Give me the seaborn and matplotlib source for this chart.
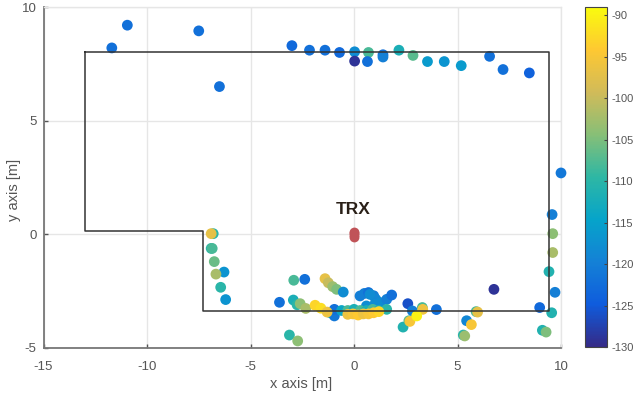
import matplotlib
matplotlib.use('Agg')
import matplotlib.pyplot as plt
import matplotlib.cm as cm
from matplotlib.colors import LinearSegmentedColormap, Normalize
import pandas as pd
import seaborn as sns

# measured reflections: position [m] and received power [dBm], drawn in this order
x_pos = [-11.7, -10.95, -7.5, -6.5,
         -3.0, -2.15, -1.4, -0.7, 0.03, 0.03, 0.7, 0.65, 1.4, 1.4, 2.17, 2.85, 3.55, 4.36, 5.18, 6.55, 7.2, 8.47,
         10.0, 9.57, 9.6, 9.6, 9.42, 9.71, 8.97, 9.55, 9.1, 9.28,
         6.76, 5.9, 5.97, 5.44, 5.67, 5.28, 5.35,
         3.98, 2.6, 2.82, 3.3, 3.32, 2.37, 2.65, 2.7, 3.03,
         -6.8, -6.9, -6.9, -6.85, -6.75, -6.28, -6.67, -6.44, -6.2,
         -2.38, -2.91, -3.6, -2.93, -2.75, -2.6, -2.33, -3.12, -2.72,
         -1.4, -1.24, -1.03, -0.84, -0.52,
         0.29, 0.5, 0.7, 0.95, 1.05, 1.0, 0.6, 0.77, 1.26, 1.58, 1.82,
         -1.15, -0.95, -0.95, -0.6, -0.3, 0.0, 0.3, 0.6, 0.9, 1.2, 1.58,
         -1.88, -1.6, -1.3, -0.3, -0.05, 0.2, 0.45, 0.7, 0.95, 1.2]
y_pos = [8.2, 9.2, 8.95, 6.5,
         8.3, 8.1, 8.1, 8.0, 8.03, 7.62, 8.0, 7.6, 7.9, 7.8, 8.1, 7.87, 7.6, 7.6, 7.42, 7.83, 7.25, 7.1,
         2.7, 0.87, 0.03, -0.8, -1.64, -2.55, -3.22, -3.45, -4.22, -4.3,
         -2.42, -3.4, -3.42, -3.8, -3.97, -4.43, -4.47,
         -3.31, -3.05, -3.37, -3.22, -3.3, -4.08, -3.8, -3.83, -3.59,
         0.03, 0.03, -0.62, -0.62, -1.2, -1.66, -1.75, -2.33, -2.87,
         -1.98, -2.02, -2.99, -2.89, -3.1, -3.05, -3.26, -4.43, -4.69,
         -1.95, -2.13, -2.3, -2.42, -2.54,
         -2.71, -2.6, -2.56, -2.7, -2.85, -3.08, -3.15, -2.64, -3.0, -2.86, -2.67,
         -3.45, -3.59, -3.3, -3.35, -3.35, -3.3, -3.35, -3.35, -3.3, -3.35, -3.3,
         -3.12, -3.25, -3.42, -3.52, -3.5, -3.55, -3.5, -3.5, -3.45, -3.4]
power = [-122, -122, -122, -122,
         -123, -122, -122, -123, -118, -129, -108, -122, -122, -120, -112, -107, -116, -117, -116, -122, -122, -124,
         -121, -120, -104, -102, -111, -120, -123, -111, -111, -105,
         -129, -108, -97, -119, -95, -110, -103,
         -122, -126, -120, -108, -96, -111, -107, -95, -90,
         -110, -97, -110, -108, -106, -117, -102, -110, -117,
         -122, -108, -122, -112, -110, -104, -102, -110, -104,
         -97, -100, -103, -105, -118,
         -120, -120, -122, -120, -119, -118, -118, -118, -118, -120, -122,
         -110, -121, -122, -114, -108, -112, -108, -112, -108, -112, -110,
         -93, -92, -96, -96, -95, -94, -96, -95, -94, -93]

# transmitter position
trx_x = [0, 0, 0, 0]
trx_y = [-0.12, -0.04, 0.04, 0.12]

# room outline
room_x = [-13, 9.42, 9.42, -7.3, -7.3, -13, -13]
room_y = [8, 8, -3.39, -3.39, 0.13, 0.13, 8]

x_ticks = [-15, -10, -5, 0, 5, 10]
y_ticks = [-5, 0, 5, 10]
cbar_ticks = [-90, -95, -100, -105, -110, -115, -120, -125, -130]

# parula-like colour map
parula = LinearSegmentedColormap.from_list('parula', [
    '#352a87', '#0f5cdd', '#1481d6', '#06a4ca', '#2eb7a4',
    '#87bf77', '#d1bb59', '#fec832', '#f9fb0e'])

text_col = '#555555'
plt.rcParams['font.family'] = ['Liberation Sans', 'DejaVu Sans']
plt.rcParams['axes.unicode_minus'] = False

df = pd.DataFrame({'x': x_pos, 'y': y_pos, 'power': power})
norm = Normalize(-130, -89)

fig = plt.figure(figsize=(6.34, 3.94), dpi=100)
ax = fig.add_axes([43.5 / 634, 1 - 348 / 394, (561 - 43.5) / 634, (348 - 7) / 394])

sns.scatterplot(data=df, x='x', y='y', hue='power', palette=parula, hue_norm=norm,
                s=60, linewidth=0, legend=False, zorder=3, clip_on=False, ax=ax)
sns.scatterplot(x=trx_x, y=trx_y, color='#c05358', s=50, linewidth=0, zorder=3, ax=ax)
sns.lineplot(x=room_x, y=room_y, sort=False, estimator=None, color='#333333',
             linewidth=1.1, zorder=4, ax=ax)

ax.text(-0.05, 1.1, 'TRX', ha='center', va='center', fontsize=12.5, fontweight='bold',
        color='#2a2018')

ax.set_xlim(-15, 10)
ax.set_ylim(-5, 10)
ax.set_xticks(x_ticks)
ax.set_yticks(y_ticks)
ax.grid(True, color='#e6e6e6', linewidth=1)
ax.set_axisbelow(True)
ax.tick_params(direction='in', length=3, width=1, color='#555555', labelcolor=text_col,
               labelsize=9.5, pad=5)
ax.tick_params(axis='x', pad=9)
ax.set_xlabel('x axis [m]', fontsize=10.5, color=text_col)
ax.set_ylabel('y axis [m]', fontsize=10.5, color=text_col)
ax.xaxis.set_label_coords(0.4976, -0.085)
ax.yaxis.set_label_coords(-0.044, 0.463)
for side in ['left', 'bottom']:
    ax.spines[side].set_color('#777777')
    ax.spines[side].set_linewidth(1.3)
for side in ['top', 'right']:
    ax.spines[side].set_color('#e6e6e6')
    ax.spines[side].set_linewidth(1)

cax = fig.add_axes([585 / 634, 1 - 347 / 394, 22 / 634, 340 / 394])
cbar = fig.colorbar(cm.ScalarMappable(norm=norm, cmap=parula), cax=cax)
cbar.set_ticks(cbar_ticks)
cbar.ax.tick_params(direction='in', length=2, width=0.8, color='#444444', labelcolor=text_col,
                    labelsize=8, pad=3)
cbar.outline.set_edgecolor('#444444')
cbar.outline.set_linewidth(0.8)

fig.savefig('out.png', dpi=100)
